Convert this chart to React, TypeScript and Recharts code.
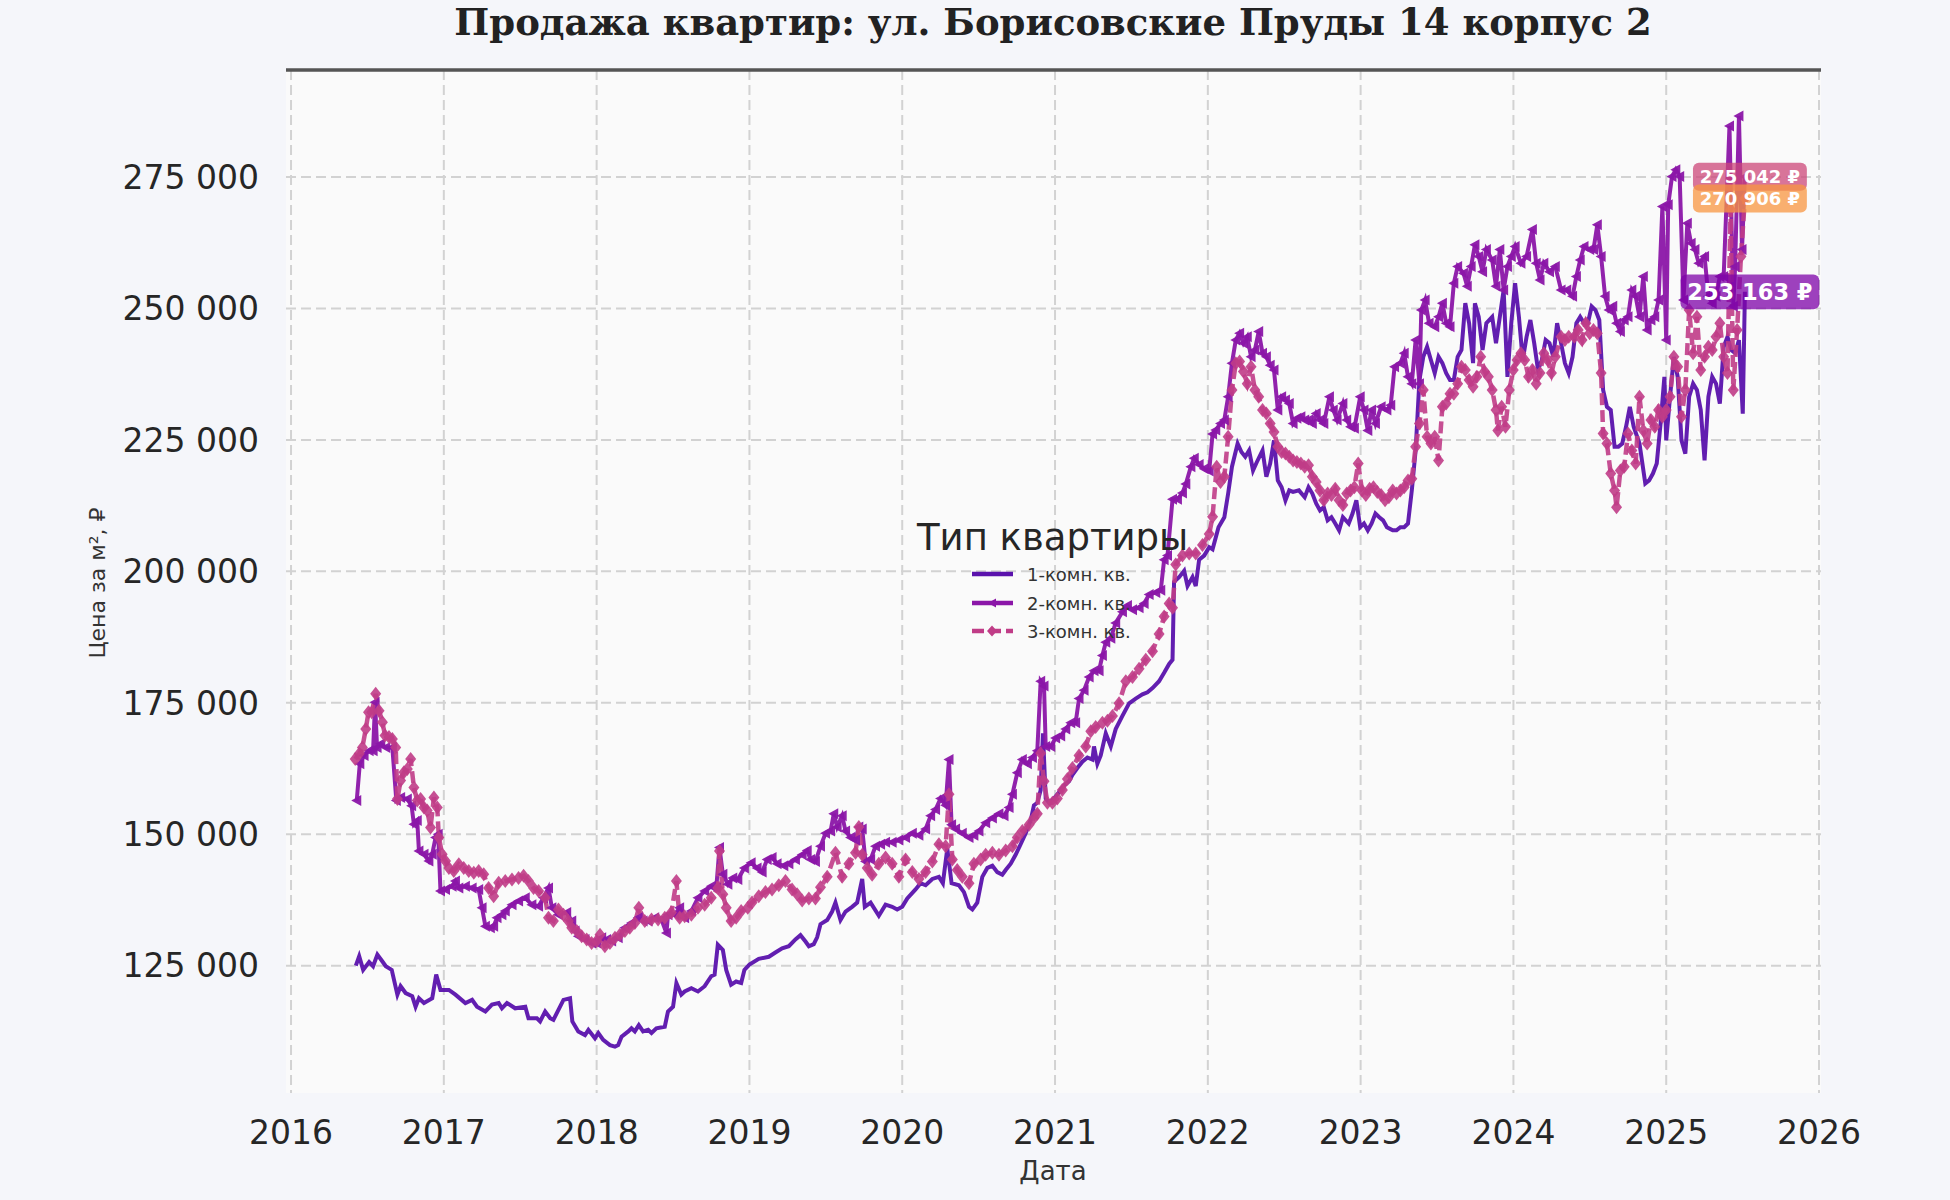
import React from 'react';
import {
  LineChart,
  Line,
  XAxis,
  YAxis,
  CartesianGrid,
  Legend,
  ReferenceLine,
} from 'recharts';

const TITLE = 'Продажа квартир: ул. Борисовские Пруды 14 корпус 2';
const X_LABEL = 'Дата';
const Y_LABEL = 'Цена за м², ₽';
const LEGEND_TITLE = 'Тип квартиры';
const SERIES_NAMES = ['1-комн. кв.', '2-комн. кв.', '3-комн. кв.'];
const X_TICKS = [2016, 2017, 2018, 2019, 2020, 2021, 2022, 2023, 2024, 2025, 2026];
const Y_TICKS = [125000, 150000, 175000, 200000, 225000, 250000, 275000];
const X_DOMAIN = [2015.967, 2026.013];
const Y_DOMAIN = [100790, 295350];

// [decimal year, price per m2]
const oneRoom = [
  [2016.424,125000],[2016.446,126800],[2016.472,124200],[2016.511,125700],[2016.537,124900],[2016.565,127100],[2016.598,125800],[2016.620,124900],[2016.659,124200],[2016.696,119500],[2016.717,121100],[2016.750,119800],[2016.793,119200],[2016.815,117200],[2016.837,118800],[2016.870,117900],[2016.924,118800],[2016.950,123300],[2016.978,120400],[2017.033,120400],[2017.076,119500],[2017.141,117900],[2017.185,118500],[2017.217,117200],[2017.272,116300],[2017.315,117600],[2017.359,117900],[2017.380,116900],[2017.413,117900],[2017.467,116900],[2017.533,117200],[2017.554,115000],[2017.609,115000],[2017.630,114400],[2017.663,116300],[2017.696,115000],[2017.717,114700],[2017.750,116600],[2017.783,118500],[2017.826,118800],[2017.841,114400],[2017.880,112500],[2017.924,111800],[2017.946,112800],[2017.989,111200],[2018.011,112200],[2018.043,110900],[2018.087,109900],[2018.120,109600],[2018.141,109900],[2018.163,111500],[2018.207,112500],[2018.228,113100],[2018.250,112500],[2018.276,113700],[2018.304,112500],[2018.337,112800],[2018.359,112200],[2018.391,113100],[2018.446,113400],[2018.467,116300],[2018.500,117200],[2018.522,121700],[2018.554,119500],[2018.576,120100],[2018.620,120700],[2018.663,120100],[2018.707,121100],[2018.750,123000],[2018.772,123300],[2018.793,129000],[2018.826,128000],[2018.848,124200],[2018.880,121400],[2018.913,122000],[2018.946,121700],[2018.967,124200],[2019.000,125200],
  [2019.061,126300],[2019.127,126700],[2019.170,127500],[2019.214,128300],[2019.258,128700],[2019.301,130000],[2019.334,130800],[2019.367,129600],[2019.389,128700],[2019.421,129100],[2019.443,130400],[2019.465,132900],[2019.509,133700],[2019.541,135300],[2019.563,137000],[2019.596,133700],[2019.629,135300],[2019.672,136200],[2019.705,137000],[2019.738,141500],[2019.755,136200],[2019.793,137000],[2019.847,134500],[2019.891,136600],[2019.934,136200],[2019.967,135700],[2020.000,136200],[2020.033,137800],[2020.087,139500],[2020.120,140700],[2020.153,140300],[2020.197,141500],[2020.240,141900],[2020.266,140700],[2020.295,147300],[2020.323,140700],[2020.371,140300],[2020.404,139000],[2020.437,136200],[2020.459,135700],[2020.491,137000],[2020.524,141900],[2020.557,143600],[2020.590,144000],[2020.622,142800],[2020.655,142300],[2020.677,143200],[2020.710,144400],[2020.742,146100],[2020.775,148100],[2020.808,150200],[2020.841,152700],[2020.862,155500],[2020.884,156000],[2020.906,158400],[2020.921,169200],[2020.939,156800],[2020.961,156000],[2020.993,156800],[2021.026,158000],[2021.059,159300],[2021.092,160100],[2021.114,161300],[2021.146,162600],[2021.179,163800],[2021.212,164600],[2021.245,164200],[2021.255,166700],[2021.277,163400],[2021.299,165000],[2021.332,169200],[2021.365,166700],[2021.397,170000],[2021.441,172500],[2021.485,174900],[2021.528,175800],[2021.572,176600],[2021.605,177000],[2021.638,177800],[2021.681,179100],[2021.714,180700],[2021.747,182400],[2021.769,183200],[2021.779,198000],[2021.812,198900],[2021.845,200100],[2021.867,197200],[2021.900,198900],[2021.921,197200],[2021.943,202200],[2021.976,203000],[2022.009,204600],[2022.031,204200],
  [2022.070,208400],[2022.108,210300],[2022.133,214800],[2022.158,219900],[2022.195,224300],[2022.220,222700],[2022.245,221800],[2022.270,223000],[2022.296,219200],[2022.321,220800],[2022.358,223000],[2022.383,218000],[2022.408,220500],[2022.433,224900],[2022.458,217300],[2022.483,216000],[2022.508,213500],[2022.533,215400],[2022.558,215100],[2022.596,215400],[2022.634,214100],[2022.659,216000],[2022.684,214800],[2022.709,212900],[2022.734,211600],[2022.759,212200],[2022.784,209700],[2022.809,210300],[2022.834,209100],[2022.859,207800],[2022.884,210300],[2022.922,209100],[2022.947,211000],[2022.972,213500],[2022.997,208400],[2023.022,209100],[2023.047,207800],[2023.072,209100],[2023.097,211000],[2023.122,210300],[2023.147,209700],[2023.172,208400],[2023.210,207800],[2023.235,207800],[2023.260,208400],[2023.285,208400],[2023.310,209100],[2023.335,215400],[2023.360,223000],[2023.385,236400],[2023.410,240800],[2023.435,242700],[2023.460,240200],[2023.485,237700],[2023.510,240800],[2023.535,239600],[2023.560,237700],[2023.585,236400],[2023.610,236400],[2023.635,240800],[2023.660,242100],[2023.685,251000],[2023.710,247200],[2023.736,239600],[2023.748,251000],[2023.773,248400],[2023.798,242100],[2023.823,247200],[2023.861,248400],[2023.886,243400],[2023.911,248400],[2023.936,253500],[2023.961,237000],[2023.986,247200],[2024.011,254800],[2024.036,248400],[2024.061,240200],[2024.086,244600],[2024.111,247800],[2024.136,243400],[2024.161,238300],[2024.186,240200],[2024.211,244000],[2024.236,243400],[2024.261,240800],[2024.286,247200],[2024.312,243400],[2024.337,239600],[2024.362,237700],[2024.387,240800],[2024.412,247200],[2024.437,248400],[2024.462,247200],[2024.487,247200],[2024.512,250400],[2024.537,249700],[2024.562,247800],[2024.587,234500],[2024.612,231300],[2024.637,230700],[2024.662,223700],[2024.687,223700],[2024.712,224300],[2024.737,227500],[2024.762,231300],[2024.787,227500],[2024.825,224300],[2024.863,216700],[2024.888,217300],[2024.913,218600],[2024.938,220500],[2024.963,228100],[2024.988,237000],[2025.000,224900],[2025.025,233200],[2025.050,240800],[2025.075,237000],[2025.100,224900],[2025.125,222400],[2025.150,233200],[2025.176,235700],[2025.201,234500],[2025.226,230700],[2025.251,221100],[2025.276,233200],[2025.301,237000],[2025.326,235700],[2025.351,231900],[2025.376,242700],[2025.401,244600],[2025.426,242100],[2025.451,241500],[2025.476,244000],[2025.501,230000],[2025.515,253163],
];

const twoRoom = [
  [2016.430,156400],[2016.450,163400],[2016.478,165000],[2016.511,165900],[2016.537,165900],[2016.550,175100],[2016.563,166500],[2016.587,167200],[2016.620,166500],[2016.663,166500],[2016.689,156400],[2016.717,157000],[2016.761,156700],[2016.789,155400],[2016.804,151900],[2016.826,152600],[2016.837,146800],[2016.870,146200],[2016.902,144900],[2016.924,146200],[2016.946,149400],[2016.963,150000],[2016.978,139200],[2017.011,139500],[2017.054,140100],[2017.076,141100],[2017.098,139800],[2017.141,140100],[2017.185,139800],[2017.228,139500],[2017.250,136000],[2017.272,132500],[2017.304,132200],[2017.326,132500],[2017.348,134100],[2017.380,134700],[2017.402,135400],[2017.446,136600],[2017.489,137300],[2017.533,137900],[2017.576,136600],[2017.620,136300],[2017.652,137900],[2017.685,139800],[2017.707,136000],[2017.750,134700],[2017.804,135100],[2017.837,133500],[2017.859,131600],[2017.880,130600],[2017.924,130000],[2017.967,129300],[2018.000,129300],[2018.033,130300],[2018.065,130000],[2018.098,129700],[2018.141,130300],[2018.185,132200],[2018.228,133100],[2018.272,134100],[2018.304,133500],[2018.337,133500],[2018.380,134100],[2018.424,133800],[2018.457,131200],[2018.467,134700],[2018.511,134700],[2018.543,136000],[2018.576,134100],[2018.620,135400],[2018.663,137900],[2018.707,139200],[2018.750,140100],[2018.783,139800],[2018.804,147500],[2018.826,142400],[2018.859,140500],[2018.891,141700],[2018.924,141400],[2018.967,143600],[2019.011,144600],
  [2019.050,143600],[2019.083,142800],[2019.116,145200],[2019.148,145600],[2019.181,144400],[2019.225,144000],[2019.258,144400],[2019.301,145200],[2019.345,146100],[2019.378,146900],[2019.400,145200],[2019.432,144800],[2019.465,147700],[2019.498,150200],[2019.531,150600],[2019.552,153900],[2019.574,151400],[2019.607,153500],[2019.629,150600],[2019.662,149400],[2019.694,148900],[2019.716,151400],[2019.738,151000],[2019.760,144800],[2019.793,145200],[2019.825,147700],[2019.858,148100],[2019.891,148500],[2019.934,148500],[2019.978,148900],[2020.022,149400],[2020.066,150200],[2020.109,149800],[2020.153,151000],[2020.186,153500],[2020.218,154700],[2020.251,156800],[2020.284,155500],[2020.306,164200],[2020.323,151800],[2020.349,151000],[2020.393,150200],[2020.437,149400],[2020.469,149800],[2020.502,150600],[2020.546,152200],[2020.590,153100],[2020.633,153900],[2020.666,153500],[2020.699,155100],[2020.721,157600],[2020.753,161700],[2020.786,164200],[2020.819,163400],[2020.852,164600],[2020.884,165900],[2020.906,179100],[2020.928,178200],[2020.939,166700],[2020.972,166700],[2021.004,168300],[2021.037,168700],[2021.070,170000],[2021.103,171200],[2021.135,171200],[2021.157,175800],[2021.190,177400],[2021.223,179900],[2021.255,181100],[2021.288,181100],[2021.310,184000],[2021.332,186500],[2021.365,187300],[2021.397,190200],[2021.441,192300],[2021.474,193500],[2021.507,192700],[2021.550,193100],[2021.583,193900],[2021.616,195600],[2021.659,196000],[2021.692,196400],[2021.714,202200],[2021.736,203000],[2021.769,213700],[2021.801,213700],[2021.834,214900],[2021.856,216600],[2021.889,219900],[2021.911,221500],[2021.943,220300],[2021.976,219500],[2022.009,219100],[2022.031,226100],[2022.052,226900],
  [2022.083,228100],[2022.108,228800],[2022.133,233200],[2022.158,239600],[2022.183,244000],[2022.208,245300],[2022.233,243400],[2022.258,244600],[2022.283,240800],[2022.308,242100],[2022.333,245600],[2022.358,241500],[2022.383,240800],[2022.408,239200],[2022.433,238300],[2022.458,230700],[2022.483,233200],[2022.508,232600],[2022.533,231900],[2022.558,228100],[2022.583,229100],[2022.609,229400],[2022.634,228800],[2022.659,228800],[2022.684,228100],[2022.709,230000],[2022.734,228800],[2022.759,228100],[2022.796,233200],[2022.821,230700],[2022.846,228800],[2022.884,231900],[2022.909,228800],[2022.934,227500],[2022.959,227200],[2022.997,233200],[2023.022,230700],[2023.047,226800],[2023.072,230700],[2023.097,228100],[2023.134,231300],[2023.172,230700],[2023.197,231600],[2023.222,238900],[2023.260,239600],[2023.285,241500],[2023.310,237000],[2023.335,235700],[2023.360,244000],[2023.385,235700],[2023.397,249700],[2023.422,251600],[2023.448,247200],[2023.485,246500],[2023.510,248400],[2023.535,251000],[2023.560,247200],[2023.585,246500],[2023.610,254800],[2023.635,258000],[2023.673,256700],[2023.698,254200],[2023.723,258000],[2023.748,262100],[2023.773,259900],[2023.798,257000],[2023.823,261200],[2023.861,259200],[2023.886,254200],[2023.911,261200],[2023.936,253500],[2023.961,258000],[2023.986,259900],[2024.011,261800],[2024.049,258600],[2024.086,259900],[2024.124,265000],[2024.149,258600],[2024.174,255400],[2024.199,258600],[2024.236,257000],[2024.274,258000],[2024.312,253500],[2024.349,253500],[2024.387,252300],[2024.412,256100],[2024.437,259200],[2024.462,261800],[2024.499,261200],[2024.524,261200],[2024.549,265900],[2024.574,259900],[2024.600,252300],[2024.625,249700],[2024.650,250400],[2024.675,247200],[2024.700,245600],[2024.725,247800],[2024.750,248400],[2024.775,253500],[2024.800,252300],[2024.825,248400],[2024.850,256100],[2024.875,245900],[2024.900,247800],[2024.925,248400],[2024.950,251600],[2024.975,269400],[2025.000,244000],[2025.013,269700],[2025.038,275100],[2025.063,276400],[2025.088,275100],[2025.113,251600],[2025.138,266200],[2025.163,262400],[2025.188,261200],[2025.213,258600],[2025.251,259900],[2025.276,252300],[2025.301,251000],[2025.326,252300],[2025.351,256100],[2025.376,256100],[2025.414,284700],[2025.439,250400],[2025.451,258000],[2025.476,286600],[2025.496,261200],[2025.515,275042],
];

const threeRoom = [
  [2016.420,164300],[2016.446,165300],[2016.467,166500],[2016.489,170000],[2016.507,173200],[2016.528,173200],[2016.554,176700],[2016.576,173500],[2016.598,171300],[2016.615,168800],[2016.641,168500],[2016.663,168100],[2016.685,166500],[2016.696,156700],[2016.717,160200],[2016.739,161800],[2016.761,162400],[2016.783,164300],[2016.804,158900],[2016.826,156400],[2016.848,156700],[2016.870,155100],[2016.891,154500],[2016.913,151300],[2016.935,157000],[2016.957,155100],[2016.967,149400],[2016.989,146200],[2017.011,144900],[2017.033,143600],[2017.065,143000],[2017.098,144300],[2017.130,143600],[2017.163,143000],[2017.196,142700],[2017.228,143000],[2017.261,142400],[2017.293,139800],[2017.326,138200],[2017.359,140800],[2017.402,141100],[2017.446,141400],[2017.489,141700],[2017.522,142100],[2017.554,141100],[2017.587,139800],[2017.620,139200],[2017.663,137900],[2017.685,134100],[2017.717,133500],[2017.750,135700],[2017.783,134700],[2017.815,133500],[2017.837,132200],[2017.870,131600],[2017.902,130600],[2017.935,130000],[2017.967,129300],[2018.000,129700],[2018.022,130900],[2018.054,128700],[2018.087,129300],[2018.120,130300],[2018.152,130900],[2018.185,131600],[2018.217,132200],[2018.250,133100],[2018.276,136000],[2018.315,133500],[2018.359,133800],[2018.402,133800],[2018.446,134100],[2018.489,135100],[2018.522,141100],[2018.543,134100],[2018.576,134400],[2018.620,134700],[2018.663,136000],[2018.707,136600],[2018.750,137900],[2018.793,139800],[2018.804,146800],[2018.826,138600],[2018.848,136000],[2018.880,133500],[2018.913,134100],[2018.946,135400],[2018.989,136000],
  [2019.017,137000],[2019.061,138200],[2019.105,139000],[2019.148,139500],[2019.192,140300],[2019.236,141100],[2019.279,139500],[2019.312,138600],[2019.345,137400],[2019.389,137800],[2019.432,137800],[2019.465,139900],[2019.509,141900],[2019.563,146500],[2019.607,141900],[2019.651,144400],[2019.694,146500],[2019.716,151400],[2019.738,146100],[2019.771,143600],[2019.803,142300],[2019.847,144400],[2019.891,145600],[2019.934,144400],[2019.978,141900],[2020.022,145200],[2020.066,142800],[2020.109,141500],[2020.153,142800],[2020.197,144800],[2020.240,148100],[2020.284,147700],[2020.306,157600],[2020.328,145200],[2020.360,143200],[2020.393,141900],[2020.437,140700],[2020.469,144400],[2020.513,145200],[2020.546,146100],[2020.590,146500],[2020.633,146100],[2020.677,146900],[2020.721,147700],[2020.753,149400],[2020.786,150600],[2020.830,151800],[2020.862,153100],[2020.884,153900],[2020.906,165400],[2020.928,160100],[2020.950,156000],[2020.983,156000],[2021.015,156800],[2021.048,158400],[2021.081,160500],[2021.114,162600],[2021.157,165000],[2021.201,166700],[2021.234,169600],[2021.266,170400],[2021.310,171200],[2021.343,171600],[2021.376,172500],[2021.419,174900],[2021.463,179100],[2021.507,179900],[2021.550,181500],[2021.594,183200],[2021.638,184800],[2021.681,188100],[2021.714,191400],[2021.747,193900],[2021.769,193100],[2021.790,201300],[2021.834,203000],[2021.878,203400],[2021.921,203400],[2021.965,205000],[2022.009,207100],[2022.031,210400],
  [2022.058,219900],[2022.083,217000],[2022.108,218000],[2022.133,225600],[2022.158,234500],[2022.183,239600],[2022.208,239900],[2022.233,238000],[2022.258,235700],[2022.283,238900],[2022.308,234500],[2022.333,233200],[2022.358,230700],[2022.383,230000],[2022.408,228100],[2022.433,226500],[2022.458,223700],[2022.483,222700],[2022.508,222400],[2022.533,221800],[2022.558,221100],[2022.583,220800],[2022.609,220500],[2022.634,219900],[2022.659,220200],[2022.684,218000],[2022.709,217000],[2022.734,215400],[2022.759,213500],[2022.784,214800],[2022.809,214500],[2022.834,215700],[2022.859,213500],[2022.884,212600],[2022.909,214800],[2022.934,215400],[2022.959,216000],[2022.984,220500],[2023.009,215400],[2023.034,214500],[2023.059,215700],[2023.084,216000],[2023.109,215100],[2023.134,214500],[2023.160,213500],[2023.185,214100],[2023.210,215400],[2023.235,214800],[2023.260,215400],[2023.285,216000],[2023.310,217300],[2023.335,217600],[2023.360,223700],[2023.385,228100],[2023.410,234500],[2023.435,225600],[2023.460,224300],[2023.485,225600],[2023.510,221100],[2023.535,231300],[2023.560,231900],[2023.585,233800],[2023.610,233800],[2023.635,235700],[2023.660,238900],[2023.685,238300],[2023.710,236400],[2023.736,235100],[2023.761,237000],[2023.786,240800],[2023.811,238000],[2023.836,237000],[2023.861,234500],[2023.886,230700],[2023.898,226800],[2023.923,231300],[2023.948,227500],[2023.973,234500],[2023.999,238300],[2024.024,240200],[2024.049,241500],[2024.074,240200],[2024.099,237000],[2024.124,238300],[2024.149,235700],[2024.174,237700],[2024.199,241500],[2024.224,240200],[2024.249,237700],[2024.274,240800],[2024.312,244600],[2024.337,244000],[2024.362,244600],[2024.399,244600],[2024.424,245900],[2024.449,244000],[2024.474,247200],[2024.499,245300],[2024.524,245900],[2024.549,245300],[2024.574,237700],[2024.587,226200],[2024.612,224300],[2024.637,218600],[2024.662,215400],[2024.675,212200],[2024.700,219200],[2024.725,219900],[2024.750,226200],[2024.775,223000],[2024.800,220500],[2024.825,233200],[2024.850,226800],[2024.875,224300],[2024.900,228800],[2024.925,227500],[2024.950,230700],[2024.975,229400],[2025.000,230700],[2025.025,233200],[2025.050,240800],[2025.075,238900],[2025.100,229400],[2025.125,234500],[2025.150,249700],[2025.176,241500],[2025.201,248400],[2025.226,238300],[2025.251,240800],[2025.276,242700],[2025.301,242100],[2025.326,244600],[2025.351,247200],[2025.376,240800],[2025.401,237700],[2025.421,268800],[2025.439,234500],[2025.464,245900],[2025.489,259900],[2025.515,270906],
];

const LINE_COLORS = ['#5A12AC', '#8B16A8', '#C03C87'];
const TAG_COLORS = ['#7E03A8', '#CC4778', '#F89540'];
const TAG_FONT = [22.5, 18, 18];
// drawing order of the value tags (pink, then orange over it, then purple)
const TAG_ORDER = [1, 2, 0];

const SERIES = [oneRoom, twoRoom, threeRoom];
const toData = (arr: number[][]) => arr.map(([t, v]) => ({ t, v }));
const DATA = SERIES.map(toData);
const TAG_DATA = TAG_ORDER.map((i) => {
  const last = SERIES[i][SERIES[i].length - 1];
  return { t: last[0], v: last[1], s: i };
});

const fmtThousands = (v: number) => {
  const s = Math.round(v).toString();
  return s.replace(/\B(?=(\d{3})+(?!\d))/g, ' ');
};

const FONT = 'DejaVu Sans, Verdana, sans-serif';

const triDot = (color: string) => (p: any) => {
  const { cx, cy, index } = p;
  if (cx == null || cy == null) return <g key={`t${index}`} />;
  return (
    <path
      key={`t${index}`}
      d={`M${cx - 5.5},${cy} L${cx + 4.5},${cy - 5.5} L${cx + 4.5},${cy + 5.5} Z`}
      fill={color}
      fillOpacity={0.95}
    />
  );
};

const diaDot = (color: string) => (p: any) => {
  const { cx, cy, index } = p;
  if (cx == null || cy == null) return <g key={`d${index}`} />;
  return (
    <path
      key={`d${index}`}
      d={`M${cx},${cy - 7} L${cx + 5.5},${cy} L${cx},${cy + 7} L${cx - 5.5},${cy} Z`}
      fill={color}
      fillOpacity={0.9}
    />
  );
};

const tagDot = (p: any) => {
  const { cx, cy, index, payload } = p;
  if (cx == null || cy == null || !payload) return <g key={`g${index}`} />;
  const i = payload.s;
  const fontSize = TAG_FONT[i];
  const w = fontSize * 5.55 + 14;
  const h = fontSize * 1.55;
  const x = cx + 5;
  return (
    <g key={`g${index}`}>
      <rect x={x - w / 2} y={cy - h / 2} width={w} height={h} rx={6} ry={6} fill={TAG_COLORS[i]} fillOpacity={0.75} />
      <text
        x={x}
        y={cy}
        textAnchor="middle"
        dominantBaseline="central"
        fontSize={fontSize}
        fontWeight="bold"
        fill="#ffffff"
        fontFamily={FONT}
      >
        {`${fmtThousands(payload.v)} ₽`}
      </text>
    </g>
  );
};

const LegendBox = () => {
  const rows = [74, 103, 131];
  return (
    <svg width={320} height={150} style={{ display: 'block', overflow: 'visible' }}>
      <text x={17} y={50} fontSize={37} fill="#262626" fontFamily={FONT}>
        {LEGEND_TITLE}
      </text>
      {SERIES_NAMES.map((name, i) => {
        const y = rows[i];
        const c = LINE_COLORS[i];
        return (
          <g key={name}>
            <line
              x1={72}
              x2={113}
              y1={y}
              y2={y}
              stroke={c}
              strokeWidth={4.5}
              strokeDasharray={i === 2 ? '12 5' : undefined}
            />
            {i === 1 && <path d={`M${88},${y} L${96},${y - 4.5} L${96},${y + 4.5} Z`} fill={c} />}
            {i === 2 && <path d={`M${92},${y - 5.5} L${97},${y} L${92},${y + 5.5} L${87},${y} Z`} fill={c} />}
            <text x={127} y={y + 6.5} fontSize={18} fill="#333333" fontFamily={FONT}>
              {name}
            </text>
          </g>
        );
      })}
    </svg>
  );
};

export default function App() {
  return (
    <div
      style={{
        position: 'absolute',
        left: 0,
        top: 0,
        width: 1950,
        height: 1200,
        background: '#F5F6FA',
        overflow: 'hidden',
      }}
    >
      <svg
        width={1950}
        height={1200}
        style={{ position: 'absolute', left: 0, top: 0, pointerEvents: 'none' }}
      >
        <text
          x={1053}
          y={35}
          textAnchor="middle"
          fontSize={37}
          fontWeight="bold"
          fill="#222222"
          fontFamily="DejaVu Serif, serif"
        >
          {TITLE}
        </text>
        <text x={1053} y={1180} textAnchor="middle" fontSize={26} fill="#333333" fontFamily={FONT}>
          {X_LABEL}
        </text>
        <text
          transform="translate(97,583) rotate(-90)"
          textAnchor="middle"
          dominantBaseline="central"
          fontSize={22}
          fill="#333333"
          fontFamily={FONT}
        >
          {Y_LABEL}
        </text>
      </svg>
      <div style={{ position: 'absolute', left: 0, top: 0 }}>
        <LineChart
          width={1950}
          height={1200}
          margin={{ top: 70, right: 129, bottom: 47, left: 86 }}
        >
          <CartesianGrid
            fill="#FAFAFA"
            stroke="#D2D2D2"
            strokeDasharray="10 5"
            strokeWidth={2}
            syncWithTicks
          />
          <XAxis
            type="number"
            dataKey="t"
            domain={X_DOMAIN}
            ticks={X_TICKS}
            allowDataOverflow
            axisLine={false}
            tickLine={false}
            tickSize={0}
            tickMargin={28}
            height={60}
            tick={{ fontSize: 33, fill: '#262626', fontFamily: FONT }}
            tickFormatter={(v: number) => String(v)}
          />
          <YAxis
            type="number"
            dataKey="v"
            domain={Y_DOMAIN}
            ticks={Y_TICKS}
            allowDataOverflow
            axisLine={false}
            tickLine={false}
            tickSize={0}
            tickMargin={27}
            width={200}
            tick={{ fontSize: 33, fill: '#262626', fontFamily: FONT }}
            tickFormatter={fmtThousands}
          />
          <ReferenceLine y={Y_DOMAIN[1]} stroke="#555555" strokeWidth={3.5} />
          <Line
            data={DATA[0]}
            dataKey="v"
            name={SERIES_NAMES[0]}
            type="linear"
            stroke={LINE_COLORS[0]}
            strokeWidth={4}
            strokeOpacity={0.95}
            dot={false}
            activeDot={false}
            isAnimationActive={false}
          />
          <Line
            data={DATA[1]}
            dataKey="v"
            name={SERIES_NAMES[1]}
            type="linear"
            stroke={LINE_COLORS[1]}
            strokeWidth={4}
            strokeOpacity={0.95}
            dot={triDot(LINE_COLORS[1])}
            activeDot={false}
            isAnimationActive={false}
          />
          <Line
            data={DATA[2]}
            dataKey="v"
            name={SERIES_NAMES[2]}
            type="linear"
            stroke={LINE_COLORS[2]}
            strokeWidth={4.5}
            strokeOpacity={0.9}
            strokeDasharray="12 5"
            dot={diaDot(LINE_COLORS[2])}
            activeDot={false}
            isAnimationActive={false}
          />
          <Line
            data={TAG_DATA}
            dataKey="v"
            name="tags"
            type="linear"
            stroke="none"
            strokeWidth={0}
            dot={tagDot}
            activeDot={false}
            legendType="none"
            isAnimationActive={false}
          />
          <Legend
            layout="vertical"
            verticalAlign="middle"
            align="center"
            wrapperStyle={{ position: 'absolute', left: 900, top: 500, width: 320, height: 150 }}
            content={() => <LegendBox />}
          />
        </LineChart>
      </div>
    </div>
  );
}
